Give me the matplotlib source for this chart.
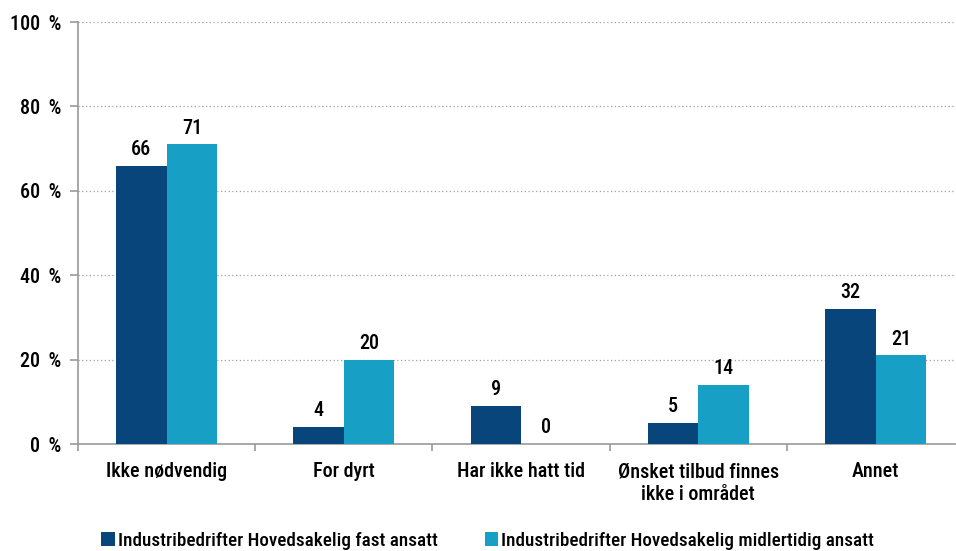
import numpy as np
import matplotlib
matplotlib.use("Agg")
import matplotlib.pyplot as plt
from matplotlib import font_manager
from matplotlib.ticker import FuncFormatter

# Data
categories = ['Ikke nødvendig', 'For dyrt', 'Har ikke hatt tid',
              'Ønsket tilbud finnes\nikke i området', 'Annet']
fast = [66, 4, 9, 5, 32]
midlertidig = [71, 20, 0, 14, 21]
series_names = ['Industribedrifter Hovedsakelig fast ansatt',
                'Industribedrifter Hovedsakelig midlertidig ansatt']

dark = '#08457a'
light = '#179fc6'
axis_grey = '#9a9a9a'

available = {f.name for f in font_manager.fontManager.ttflist}
wanted = ['Liberation Sans Narrow', 'Roboto Condensed', 'DejaVu Sans Condensed',
          'Open Sans Condensed', 'Noto Sans Condensed', 'Roboto']
picked = [n for n in wanted if n in available][:1]
plt.rcParams['font.family'] = picked + ['DejaVu Sans']
narrow = picked and picked[0] in ('Liberation Sans Narrow', 'Roboto Condensed',
                                  'Open Sans Condensed', 'Noto Sans Condensed')
fs = 14.5 if narrow else 12.5
fs_leg = 13.8 if narrow else 12
wt = 'medium'

fig = plt.figure(figsize=(9.56, 5.51), dpi=100)
ax = fig.add_axes([0.0816, 0.194, 0.927, 0.766])

x = np.arange(len(categories))
w = 0.285
b1 = ax.bar(x - w / 2, fast, w, color=dark, label=series_names[0], zorder=3)
b2 = ax.bar(x + w / 2, midlertidig, w, color=light, label=series_names[1], zorder=3)

for bars in (b1, b2):
    for bar in bars:
        h = bar.get_height()
        ax.text(bar.get_x() + bar.get_width() / 2, h + 1.6, f'{h:.0f}',
                ha='center', va='bottom', fontsize=fs, fontweight=wt)

ax.set_xlim(-0.5, len(categories) - 0.5)
ax.set_ylim(0, 100)
ax.set_yticks(range(0, 101, 20))
ax.yaxis.set_major_formatter(FuncFormatter(lambda v, p: f'{v:.0f} \u2009%'))
ax.yaxis.grid(True, linestyle=(0, (1, 2)), color='#a0a0a0', linewidth=0.9, zorder=0)

ax.set_xticks(np.arange(-0.5, len(categories), 1))
ax.set_xticklabels([])
ax.set_xticks(x, minor=True)
ax.set_xticklabels(categories, minor=True, fontsize=fs, fontweight=wt, linespacing=1.25)
ax.tick_params(axis='x', which='minor', length=0, pad=13)
ax.tick_params(axis='x', which='major', length=5, color=axis_grey, width=1.2)
ax.tick_params(axis='y', length=6, color=axis_grey, width=1.2, labelsize=fs, pad=6)
for t in ax.get_yticklabels():
    t.set_fontweight(wt)

for s in ['top', 'right']:
    ax.spines[s].set_visible(False)
for s in ['left', 'bottom']:
    ax.spines[s].set_color(axis_grey)
    ax.spines[s].set_linewidth(1.2)

fig.legend(handles=[b1, b2], labels=series_names, loc='lower left',
           bbox_to_anchor=(0.088, -0.029), ncol=2, frameon=False,
           prop={'size': fs_leg, 'weight': wt},
           handlelength=0.7, handleheight=0.7, handletextpad=0.15, columnspacing=2.45)

fig.savefig('out.png', dpi=100)
